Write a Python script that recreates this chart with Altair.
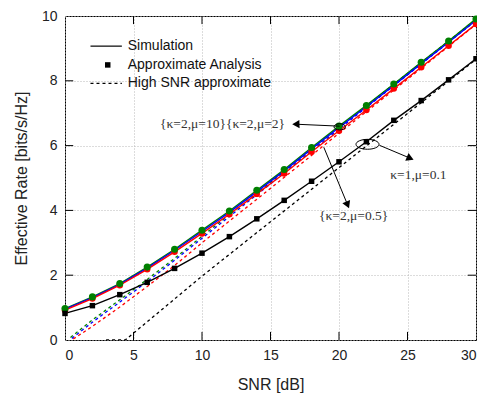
import altair as alt
import pandas as pd

# ---------------- data ----------------
snr = [0, 2, 4, 6, 8, 10, 12, 14, 16, 18, 20, 22, 24, 26, 28, 30]
green_sim = [0.97, 1.33, 1.74, 2.25, 2.80, 3.39, 3.98, 4.62, 5.26, 5.94, 6.60, 7.24, 7.90, 8.57, 9.23, 9.91]
blue_sim = [0.95, 1.31, 1.72, 2.22, 2.77, 3.35, 3.94, 4.58, 5.22, 5.90, 6.56, 7.20, 7.86, 8.53, 9.19, 9.87]
red_sim = [0.92, 1.28, 1.69, 2.18, 2.72, 3.29, 3.88, 4.51, 5.14, 5.81, 6.46, 7.10, 7.76, 8.42, 9.08, 9.75]
black_sim = [0.82, 1.06, 1.40, 1.78, 2.21, 2.68, 3.19, 3.74, 4.31, 4.90, 5.50, 6.12, 6.78, 7.39, 8.03, 8.68]

green_hi_x = [0.4, 2, 4, 6, 8, 10, 15, 20, 25, 30]
green_hi = [0.08, 0.62, 1.24, 1.87, 2.52, 3.20, 4.87, 6.56, 8.23, 9.90]
blue_hi_x = [0.5, 2, 4, 6, 8, 10, 15, 20, 25, 30]
blue_hi = [0.05, 0.55, 1.17, 1.80, 2.46, 3.14, 4.82, 6.51, 8.18, 9.86]
red_hi_x = [0.6, 2, 4, 6, 8, 10, 15, 20, 25, 30]
red_hi = [0.03, 0.42, 1.02, 1.65, 2.30, 3.00, 4.68, 6.38, 8.05, 9.74]
black_hi_x = [3, 4.4, 10, 15, 20, 25, 30]
black_hi = [0.0, 0.0, 1.97, 3.65, 5.32, 6.99, 8.66]

series = ["green", "blue", "red", "black"]
colors = ["#008000", "#0000ff", "#ff0000", "#000000"]

x_ticks = [0, 5, 10, 15, 20, 25, 30]
y_ticks = [0, 2, 4, 6, 8, 10]

legend_labels = ["Simulation", "Approximate Analysis", "High SNR approximate"]
legend_y = [9.07, 8.49, 7.92]
legend_x1, legend_x2, legend_tx, legend_mx = 1.86, 4.15, 4.58, 3.12

ann_text = ["{κ=2,μ=10}{κ=2,μ=2}", "κ=1,μ=0.1", "{κ=2,μ=0.5}"]
ann_x = [11.5, 25.8, 21.07]
ann_y = [6.66, 5.09, 3.83]
arrow_x1 = [20.05, 22.95, 18.89]
arrow_y1 = [6.60, 6.01, 5.95]
arrow_x2 = [16.85, 25.2, 20.63]
arrow_y2 = [6.66, 5.61, 4.17]
arrow_shape = ["triangle-left", "triangle-right", "triangle-right"]
arrow_angle = [358, 23, 67]
ell_x = [20.05, 22.08]
ell_y = [6.58, 6.04]

# ---------------- tables ----------------
sim_rows = []
for s, vals in zip(series, [green_sim, blue_sim, red_sim, black_sim]):
    for x, y in zip(snr, vals):
        sim_rows.append({"snr": x, "rate": y, "s": s})
sim = pd.DataFrame(sim_rows)

hi_rows = []
for s, xs_, vals in zip(series, [green_hi_x, blue_hi_x, red_hi_x, black_hi_x],
                        [green_hi, blue_hi, red_hi, black_hi]):
    for x, y in zip(xs_, vals):
        hi_rows.append({"snr": x, "rate": y, "s": s})
hi = pd.DataFrame(hi_rows)

xs = alt.Scale(domain=[0, 30], nice=False, zero=False)
ys = alt.Scale(domain=[0, 10], nice=False, zero=False)
cs = alt.Scale(domain=series, range=colors)

X = alt.X("snr:Q", scale=xs,
          axis=alt.Axis(values=x_ticks, title="SNR [dB]", grid=True, ticks=False,
                        domain=False, labelPadding=8, titlePadding=14))
Y = alt.Y("rate:Q", scale=ys,
          axis=alt.Axis(values=y_ticks, title="Effective Rate [bits/s/Hz]", grid=True,
                        ticks=False, domain=False, labelPadding=8, titlePadding=12))

hi_layer = alt.Chart(hi).mark_line(strokeDash=[3, 3], strokeWidth=1.3, clip=True).encode(
    x=X, y=Y, color=alt.Color("s:N", scale=cs, legend=None), detail="s:N")

sim_line = alt.Chart(sim).mark_line(strokeWidth=1.4).encode(
    x="snr:Q", y="rate:Q", color=alt.Color("s:N", scale=cs, legend=None), detail="s:N")

def pts(name, shape, size):
    return alt.Chart(sim[sim.s == name]).mark_point(
        shape=shape, filled=True, opacity=1, size=size, color=colors[series.index(name)]
    ).encode(x="snr:Q", y="rate:Q")

markers = pts("blue", "circle", 30) + pts("red", "circle", 42) + pts("green", "circle", 50) + pts("black", "square", 30)

# inward ticks
tk = []
for v in x_ticks[1:-1]:
    tk.append({"x": v, "x2": v, "y": 0, "y2": 0.25})
    tk.append({"x": v, "x2": v, "y": 9.75, "y2": 10})
for v in y_ticks[1:-1]:
    tk.append({"x": 0, "x2": 0.6, "y": v, "y2": v})
    tk.append({"x": 29.4, "x2": 30, "y": v, "y2": v})
ticks = alt.Chart(pd.DataFrame(tk)).mark_rule(color="black", strokeWidth=1).encode(
    x="x:Q", x2="x2:Q", y="y:Q", y2="y2:Q")

# legend
leg_lines = pd.DataFrame({"x": [legend_x1, legend_x1], "x2": [legend_x2, legend_x2],
                          "y": [legend_y[0], legend_y[2]], "dash": ["solid", "dash"]})
leg_solid = alt.Chart(leg_lines[leg_lines.dash == "solid"]).mark_rule(color="black", strokeWidth=1.2).encode(
    x="x:Q", x2="x2:Q", y="y:Q")
leg_dash = alt.Chart(leg_lines[leg_lines.dash == "dash"]).mark_rule(color="black", strokeWidth=1.2, strokeDash=[3, 3]).encode(
    x="x:Q", x2="x2:Q", y="y:Q")
leg_sq = alt.Chart(pd.DataFrame({"x": [legend_mx], "y": [legend_y[1]]})).mark_point(
    shape="square", filled=True, opacity=1, size=30, color="black").encode(x="x:Q", y="y:Q")
leg_txt = alt.Chart(pd.DataFrame({"x": [legend_tx] * 3, "y": legend_y, "t": legend_labels})).mark_text(
    align="left", baseline="middle", font="Liberation Sans", fontSize=14, color="#111").encode(
    x="x:Q", y="y:Q", text="t:N")

# annotations
ann = alt.Chart(pd.DataFrame({"x": ann_x, "y": ann_y, "t": ann_text})).mark_text(
    font="Liberation Serif", fontSize=13.5, color="#333", baseline="middle").encode(
    x="x:Q", y="y:Q", text="t:N")
arr = pd.DataFrame({"x": arrow_x1, "y": arrow_y1, "x2": arrow_x2, "y2": arrow_y2,
                    "shape": arrow_shape, "angle": arrow_angle})
arr_lines = alt.Chart(arr).mark_rule(color="black", strokeWidth=1).encode(
    x="x:Q", y="y:Q", x2="x2:Q", y2="y2:Q")
heads = None
for i in range(len(arrow_x2)):
    h = alt.Chart(arr.iloc[[i]]).mark_point(shape=arrow_shape[i], angle=arrow_angle[i], filled=True,
                                           opacity=1, size=70, color="black").encode(
        x="x2:Q", y="y2:Q")
    heads = h if heads is None else heads + h
ell1 = alt.Chart(pd.DataFrame({"x": [ell_x[0]], "y": [ell_y[0]]})).mark_point(
    shape="M-1,0A1,0.55 0 1,1 1,0A1,0.55 0 1,1 -1,0Z", size=130, color="black", strokeWidth=1,
    filled=False, opacity=1).encode(x="x:Q", y="y:Q")
ell2 = alt.Chart(pd.DataFrame({"x": [ell_x[1]], "y": [ell_y[1]]})).mark_point(
    shape="M-1,0A1,0.43 0 1,1 1,0A1,0.43 0 1,1 -1,0Z", size=530, color="black", strokeWidth=1,
    filled=False, opacity=1).encode(x="x:Q", y="y:Q")

chart = alt.layer(
    hi_layer, sim_line, markers, ticks, leg_solid, leg_dash, leg_sq, leg_txt,
    arr_lines, heads, ell1, ell2, ann
).properties(
    width=411, height=324,
    autosize=alt.AutoSizeParams(type="none"),
    padding={"left": 57, "top": 8, "right": 1, "bottom": 54},
).configure_view(
    stroke="black", strokeWidth=1
).configure_axis(
    labelFont="Liberation Sans", labelFontSize=14, labelColor="#222",
    titleFont="Liberation Sans", titleFontSize=16, titleColor="#222", titleFontWeight="normal",
    gridColor="#b8b8b8", gridDash=[1, 2], gridWidth=1
)

chart.save("out.html", embed_options={"renderer": "svg", "actions": False})
